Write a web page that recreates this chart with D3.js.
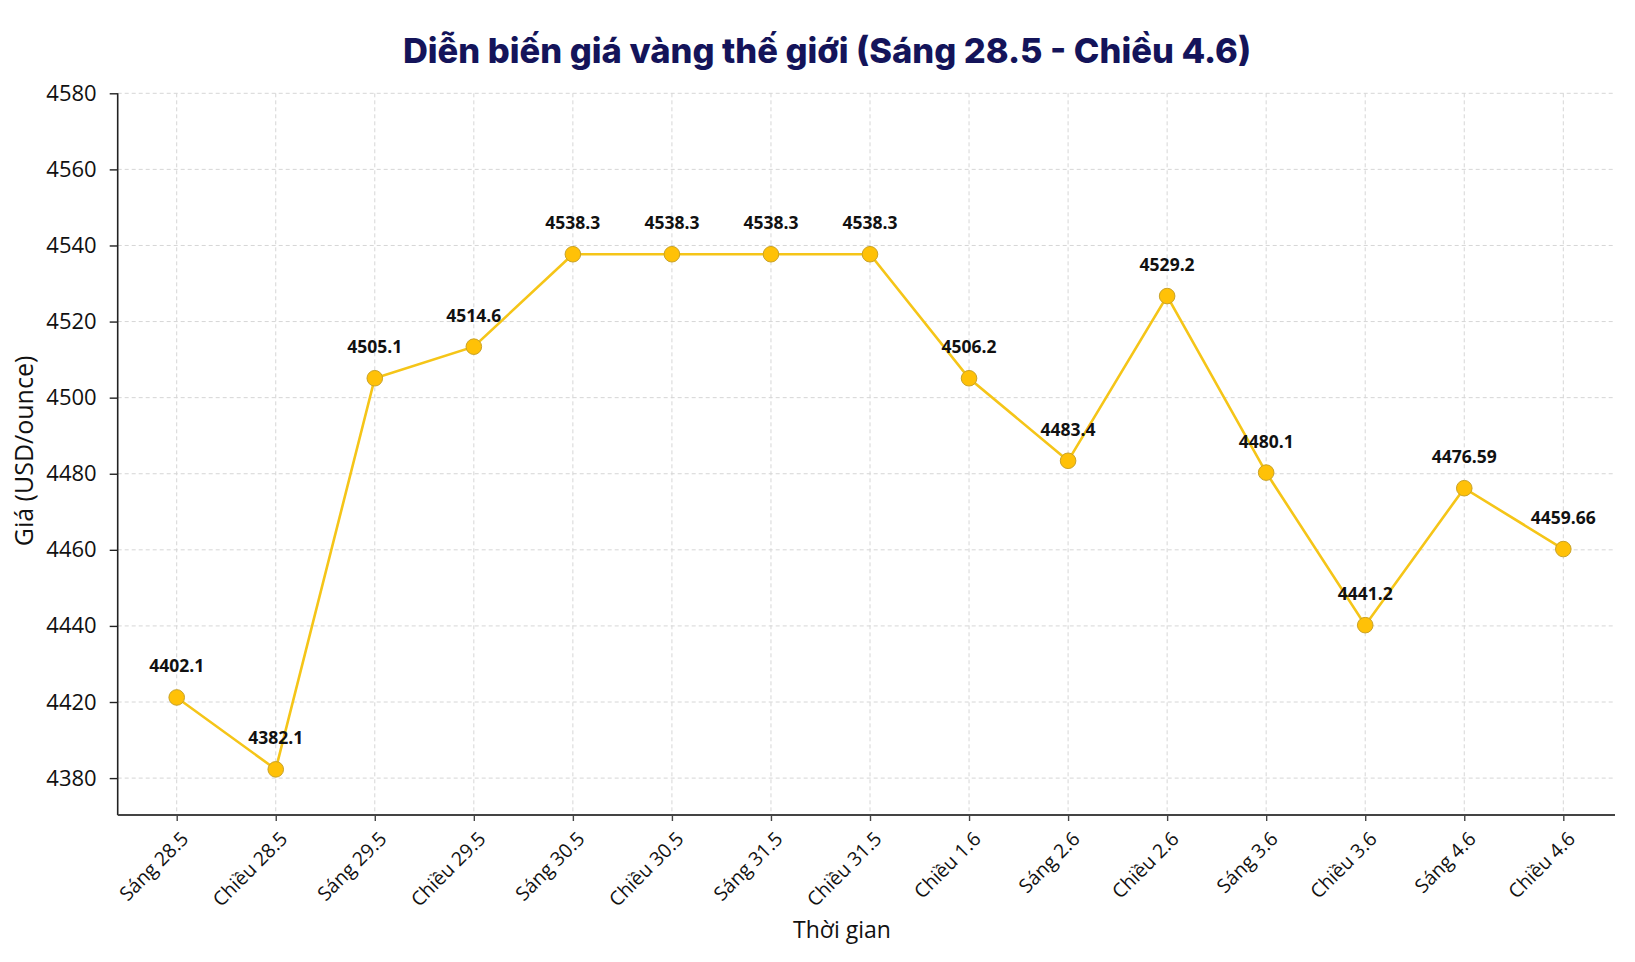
<!DOCTYPE html>
<meta charset="utf-8">
<style>
body { margin: 0; background: white; }
text { font-family: "Open Sans", sans-serif; }
</style>
<body>
<script src="https://cdn.jsdelivr.net/npm/d3@7"></script>
<script>
var categories = ['Sáng 28.5', 'Chiều 28.5', 'Sáng 29.5', 'Chiều 29.5', 'Sáng 30.5', 'Chiều 30.5',
    'Sáng 31.5', 'Chiều 31.5', 'Chiều 1.6', 'Sáng 2.6', 'Chiều 2.6', 'Sáng 3.6', 'Chiều 3.6',
    'Sáng 4.6', 'Chiều 4.6']
// where each point sits on the y axis
var plotted = [4421.2, 4402.3, 4505.1, 4513.4, 4537.7, 4537.7, 4537.7, 4537.7, 4505.1,
    4483.4, 4526.7, 4480.3, 4440.2, 4476.2, 4460.2]
// the value printed above each point
var priceLabels = ['4402.1', '4382.1', '4505.1', '4514.6', '4538.3', '4538.3', '4538.3', '4538.3',
    '4506.2', '4483.4', '4529.2', '4480.1', '4441.2', '4476.59', '4459.66']
var tickValues = [4400, 4420, 4440, 4460, 4480, 4500, 4520, 4540, 4560, 4580]
var tickLabels = ['4380', '4420', '4440', '4460', '4480', '4500', '4520', '4540', '4560', '4580']

var width = 1635
var height = 962
var plotLeft = 117.7, plotRight = 1615, plotTop = 93.3, plotBottom = 815

var svg = d3.select('body').append('svg')
    .attr('width', width)
    .attr('height', height)

var x = d3.scalePoint().domain(categories).range([176.7, 1563.3])
var y = d3.scaleLinear().domain([4390.3, 4580]).range([plotBottom, plotTop])

// grid
svg.append('g')
    .selectAll('line')
    .data(tickValues)
    .enter().append('line')
    .attr('x1', plotLeft).attr('x2', plotRight)
    .attr('y1', function (d) { return y(d) })
    .attr('y2', function (d) { return y(d) })
    .attr('stroke', '#d6d6d6')
    .attr('stroke-dasharray', '4,3')

svg.append('g')
    .selectAll('line')
    .data(categories)
    .enter().append('line')
    .attr('x1', function (d) { return x(d) })
    .attr('x2', function (d) { return x(d) })
    .attr('y1', plotTop).attr('y2', plotBottom)
    .attr('stroke', '#d6d6d6')
    .attr('stroke-dasharray', '4,3')

// axes
var yAxis = svg.append('g')
    .attr('transform', 'translate(' + plotLeft + ',0)')
    .call(d3.axisLeft(y).tickValues(tickValues).tickSize(8).tickPadding(13)
        .tickFormat(function (d, i) { return tickLabels[i] }))
yAxis.select('.domain').remove()
yAxis.append('line')
    .attr('y1', plotTop).attr('y2', plotBottom)
    .attr('stroke', '#222').attr('stroke-width', 1.6)
yAxis.selectAll('.tick line').attr('stroke', '#222').attr('stroke-width', 1.4)
yAxis.selectAll('.tick text')
    .attr('font-family', 'Open Sans')
    .attr('font-size', 22)
    .attr('fill', '#111')

var xAxis = svg.append('g')
    .attr('transform', 'translate(0,' + plotBottom + ')')
    .call(d3.axisBottom(x).tickSize(6).tickFormat(''))
xAxis.select('.domain').remove()
xAxis.append('line')
    .attr('x1', plotLeft).attr('x2', plotRight)
    .attr('stroke', '#444').attr('stroke-width', 2)
xAxis.selectAll('.tick line').attr('stroke', '#444').attr('stroke-width', 1.4)

svg.append('g')
    .selectAll('text')
    .data(categories)
    .enter().append('text')
    .attr('transform', function (d) { return 'translate(' + (x(d) + 13) + ',' + 840 + ') rotate(-45)' })
    .attr('text-anchor', 'end')
    .attr('font-size', 19.5)
    .attr('fill', '#111')
    .text(function (d) { return d })

// line and points
var line = d3.line()
    .x(function (d, i) { return x(categories[i]) })
    .y(function (d) { return y(d) })

svg.append('path')
    .datum(plotted)
    .attr('d', line)
    .attr('fill', 'none')
    .attr('stroke', '#F5C518')
    .attr('stroke-width', 2.6)

svg.append('g')
    .selectAll('circle')
    .data(plotted)
    .enter().append('circle')
    .attr('cx', function (d, i) { return x(categories[i]) })
    .attr('cy', function (d) { return y(d) })
    .attr('r', 7.8)
    .attr('fill', '#FFC107')
    .attr('stroke', '#C9A227')
    .attr('stroke-width', 1)

svg.append('g')
    .selectAll('text')
    .data(plotted)
    .enter().append('text')
    .attr('x', function (d, i) { return x(categories[i]) })
    .attr('y', function (d) { return y(d) - 25 })
    .attr('text-anchor', 'middle')
    .attr('font-size', 17.5)
    .attr('font-weight', 'bold')
    .attr('fill', '#111')
    .text(function (d, i) { return priceLabels[i] })

// titles
svg.append('text')
    .attr('x', 827).attr('y', 63)
    .attr('text-anchor', 'middle')
    .style('font-family', 'Inter, sans-serif')
    .attr('font-size', 34.5)
    .attr('font-weight', 800)
    .attr('fill', '#14145a')
    .text('Diễn biến giá vàng thế giới (Sáng 28.5 - Chiều 4.6)')

svg.append('text')
    .attr('transform', 'translate(33,451) rotate(-90)')
    .attr('text-anchor', 'middle')
    .attr('font-size', 25)
    .attr('fill', '#111')
    .text('Giá (USD/ounce)')

svg.append('text')
    .attr('x', 842).attr('y', 938)
    .attr('text-anchor', 'middle')
    .attr('font-size', 23)
    .attr('fill', '#111')
    .text('Thời gian')
</script>
</body>
